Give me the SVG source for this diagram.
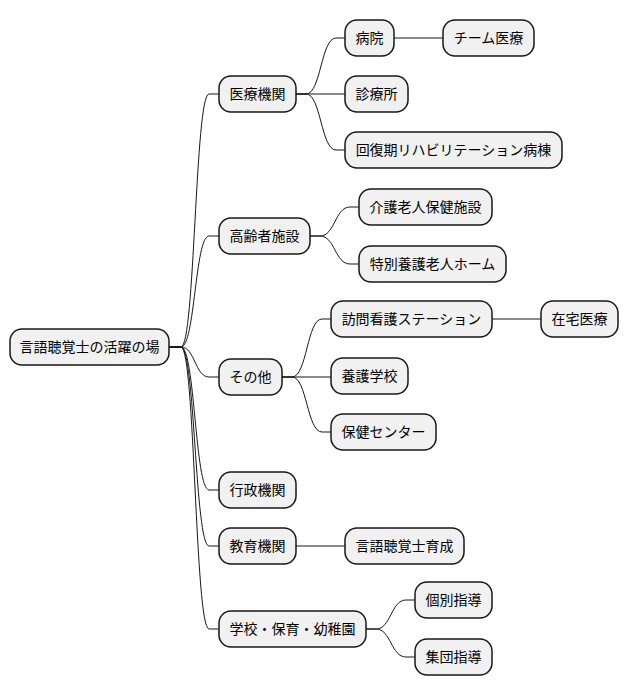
<svg xmlns="http://www.w3.org/2000/svg" width="628" height="696" viewBox="0 0 628 696">
<style>
.n rect{fill:#F1F1F1;stroke:#181818;stroke-width:1.5}
.n text{font-family:"Noto Sans CJK JP","Noto Sans",sans-serif;font-size:14px;fill:#000;text-anchor:middle}
#edges path{fill:none;stroke:#181818;stroke-width:1}
</style>
<rect width="628" height="696" fill="#FFFFFF"/>
<g id="edges">
<path d="M169,347 L181,347 C195,347 195,94 209,94 L219,94"/>
<path d="M169,347 L181,347 C195,347 195,236 209,236 L219,236"/>
<path d="M169,347 L181,347 C195,347 195,377 209,377 L219,377"/>
<path d="M169,347 L181,347 C195,347 195,490 209,490 L219,490"/>
<path d="M169,347 L181,347 C195,347 195,546 209,546 L219,546"/>
<path d="M169,347 L181,347 C195,347 195,629 209,629 L219,629"/>
<path d="M296,94 L306,94 C321,94 321,38 336,38 L345,38"/>
<path d="M296,94 L345,94"/>
<path d="M296,94 L306,94 C321,94 321,150 336,150 L345,150"/>
<path d="M394,38 L443,38"/>
<path d="M310,236 L320,236 C335,236 335,207 350,207 L359,207"/>
<path d="M310,236 L320,236 C335,236 335,264 350,264 L359,264"/>
<path d="M282,377 L292,377 C307,377 307,319 322,319 L331,319"/>
<path d="M282,377 L331,377"/>
<path d="M282,377 L292,377 C307,377 307,432 322,432 L331,432"/>
<path d="M492,319 L541,319"/>
<path d="M296,546 L345,546"/>
<path d="M366,629 L376,629 C391,629 391,600 406,600 L415,600"/>
<path d="M366,629 L376,629 C391,629 391,657 406,657 L415,657"/>
</g>
<g id="root" class="n"><rect x="10" y="329" width="159" height="36" rx="12"/><text x="89.5" y="352">言語聴覚士の活躍の場</text></g>
<g id="iryo" class="n"><rect x="219" y="76" width="77" height="36" rx="12"/><text x="257.5" y="99">医療機関</text></g>
<g id="koreisha" class="n"><rect x="219" y="218" width="91" height="36" rx="12"/><text x="264.5" y="241">高齢者施設</text></g>
<g id="sonota" class="n"><rect x="219" y="359" width="63" height="36" rx="12"/><text x="250.5" y="382">その他</text></g>
<g id="gyosei" class="n"><rect x="219" y="472" width="77" height="36" rx="12"/><text x="257.5" y="495">行政機関</text></g>
<g id="kyoiku" class="n"><rect x="219" y="528" width="77" height="36" rx="12"/><text x="257.5" y="551">教育機関</text></g>
<g id="gakko" class="n"><rect x="219" y="611" width="147" height="36" rx="12"/><text x="292.5" y="634">学校・保育・幼稚園</text></g>
<g id="byoin" class="n"><rect x="345" y="20" width="49" height="36" rx="12"/><text x="369.5" y="43">病院</text></g>
<g id="team" class="n"><rect x="443" y="20" width="91" height="36" rx="12"/><text x="488.5" y="43">チーム医療</text></g>
<g id="shinryojo" class="n"><rect x="345" y="76" width="63" height="36" rx="12"/><text x="376.5" y="99">診療所</text></g>
<g id="kaifukuki" class="n"><rect x="345" y="132" width="217" height="36" rx="12"/><text x="453.5" y="155">回復期リハビリテーション病棟</text></g>
<g id="kaigo" class="n"><rect x="359" y="189" width="133" height="36" rx="12"/><text x="425.5" y="212">介護老人保健施設</text></g>
<g id="tokuyo" class="n"><rect x="359" y="246" width="147" height="36" rx="12"/><text x="432.5" y="269">特別養護老人ホーム</text></g>
<g id="houmon" class="n"><rect x="331" y="301" width="161" height="36" rx="12"/><text x="411.5" y="324">訪問看護ステーション</text></g>
<g id="zaitaku" class="n"><rect x="541" y="301" width="77" height="36" rx="12"/><text x="579.5" y="324">在宅医療</text></g>
<g id="yogo" class="n"><rect x="331" y="358" width="77" height="36" rx="12"/><text x="369.5" y="381">養護学校</text></g>
<g id="hoken" class="n"><rect x="331" y="414" width="105" height="36" rx="12"/><text x="383.5" y="437">保健センター</text></g>
<g id="ikusei" class="n"><rect x="345" y="528" width="119" height="36" rx="12"/><text x="404.5" y="551">言語聴覚士育成</text></g>
<g id="kobetsu" class="n"><rect x="415" y="582" width="77" height="36" rx="12"/><text x="453.5" y="605">個別指導</text></g>
<g id="shudan" class="n"><rect x="415" y="639" width="77" height="36" rx="12"/><text x="453.5" y="662">集団指導</text></g>
</svg>
